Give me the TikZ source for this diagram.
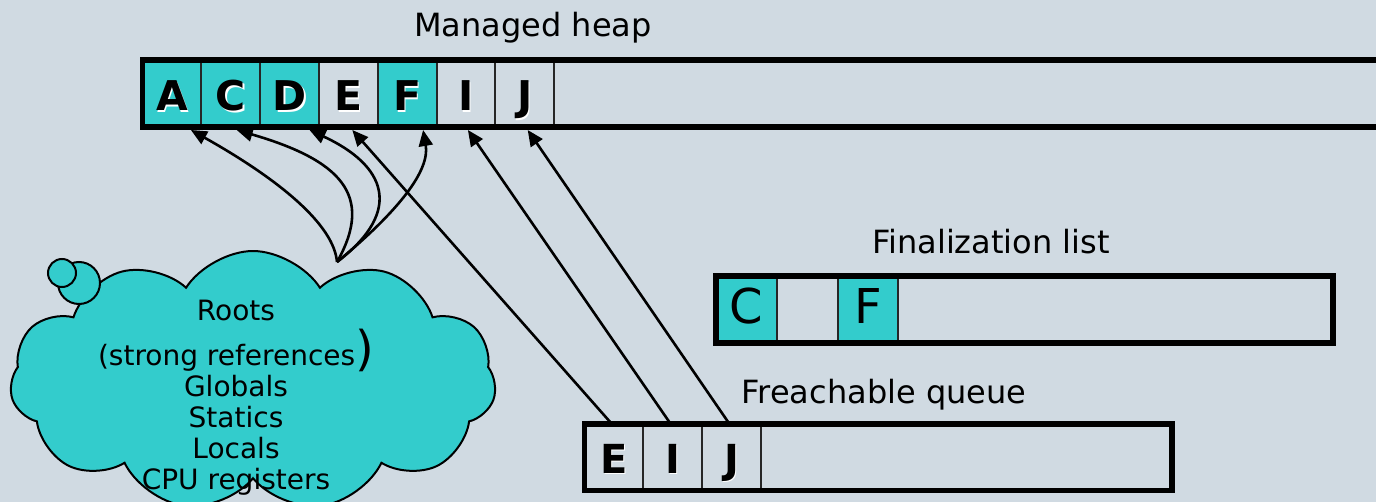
\documentclass[tikz,border=0pt]{standalone}
\usepackage{fontspec}
\setmainfont{DejaVu Sans}
\usetikzlibrary{positioning,shapes.symbols,arrows.meta}

\definecolor{slide}{RGB}{208,218,226}
\definecolor{live}{RGB}{51,204,204}

% letter with a white highlight to the lower right
\newcommand{\embossed}[1]{\rlap{\kern0.8pt\raisebox{-0.8pt}{\color{white}#1}}#1}

\tikzset{
  cell/.style={draw=black!85, line width=1pt, inner sep=0pt, outer sep=0pt},
  heapcell/.style={cell, minimum width=29.4pt, minimum height=33.5pt,
    font=\fontsize{20.5}{20.5}\selectfont\bfseries, text height=17pt, text depth=0pt},
  queuecell/.style={cell, minimum width=29.4pt, minimum height=33.25pt,
    font=\fontsize{20}{20}\selectfont\bfseries, text height=16pt, text depth=0pt},
  fincell/.style={cell, minimum width=30.4pt, minimum height=33.5pt,
    font=\fontsize{24}{24}\selectfont, text height=17.5pt, text depth=4pt},
  frame/.style={draw=black, line width=2.8pt},
  caption/.style={inner sep=0pt, anchor=base, font=\fontsize{16}{19}\selectfont},
  ref/.style={-{Triangle[length=8pt,width=7pt]}, line width=1.3pt}
}

\begin{document}
\begin{tikzpicture}[x=0.5pt, y=-0.5pt]
  \useasboundingbox (0,0) rectangle (1376,502);
  \fill[slide] (0,0) rectangle (1376,502);
  \clip (0,0) rectangle (1376,502);

  % roots cloud
  \node[cloud, cloud puffs=11, cloud puff arc=115, aspect=1.9, draw=black,
        line width=1pt, fill=live, minimum width=243pt, minimum height=130pt]
        (roots) at (253,381) {};
  \draw[line width=1pt, fill=live] (79,283) circle (10.5pt);
  \draw[line width=1pt, fill=live] (62,273) circle (7pt);
  \node[inner sep=0pt, anchor=north, align=center,
        font=\fontsize{14}{15.5}\selectfont] (rootstext) at (236,300)
    {Roots\\[6.8pt]
     (strong references\smash{\fontsize{24}{24}\selectfont)}\\
     Globals\\ Statics\\ Locals\\ CPU registers};
  \coordinate (rootsout) at (337,262);

  % managed heap
  \node[caption] (heaptitle) at (533,36.7) {Managed heap};
  \node[heapcell, fill=live, anchor=north west] (a) at (142.5,60) {\embossed{A}};
  \node[heapcell, fill=live, right=0pt of a] (c) {\embossed{C}};
  \node[heapcell, fill=live, right=0pt of c] (d) {\embossed{D}};
  \node[heapcell, right=0pt of d] (e) {\embossed{E}};
  \node[heapcell, fill=live, right=0pt of e] (f) {\embossed{F}};
  \node[heapcell, right=0pt of f] (i) {\embossed{I}};
  \node[heapcell, right=0pt of i] (j) {\embossed{J}};
  \coordinate (heapend) at (1420,127);
  \draw[frame] (a.north west) rectangle (heapend);

  % finalization list
  \node[caption] (fintitle) at (991,253.3) {Finalization list};
  \node[fincell, fill=live, anchor=north west] (fc) at (716,276) {C};
  \node[fincell, right=0pt of fc] (fgap) {};
  \node[fincell, fill=live, right=0pt of fgap] (ff) {F};
  \coordinate (finend) at (1333,343);
  \draw[frame] (fc.north west) rectangle (finend);

  % freachable queue
  \node[caption] (queuetitle) at (884,403.3) {Freachable queue};
  \node[queuecell, anchor=north west] (qe) at (584.5,424) {\embossed{E}};
  \node[queuecell, right=0pt of qe] (qi) {\embossed{I}};
  \node[queuecell, right=0pt of qi] (qj) {\embossed{J}};
  \coordinate (queueend) at (1172,490.5);
  \draw[frame] (qe.north west) rectangle (queueend);

  % references
  \draw[ref] (rootsout) .. controls (334,225) and (280,180) .. ([shift={(19,3)}]a.south);
  \draw[ref] (rootsout) .. controls (375,195) and (340,160) .. ([shift={(6,3)}]c.south);
  \draw[ref] (rootsout) .. controls (405,210) and (385,165) .. ([shift={(20,3)}]d.south);
  \draw[ref] (rootsout) .. controls (400,210) and (430,170) .. ([shift={(16,3)}]f.south);
  \draw[ref] ([shift={(-2,0)}]qe.north) -- ([shift={(4,3)}]e.south);
  \draw[ref] ([shift={(-2,0)}]qi.north) -- ([shift={(2,3)}]i.south);
  \draw[ref] ([shift={(-2,0)}]qj.north) -- ([shift={(3,3)}]j.south);
\end{tikzpicture}
\end{document}
